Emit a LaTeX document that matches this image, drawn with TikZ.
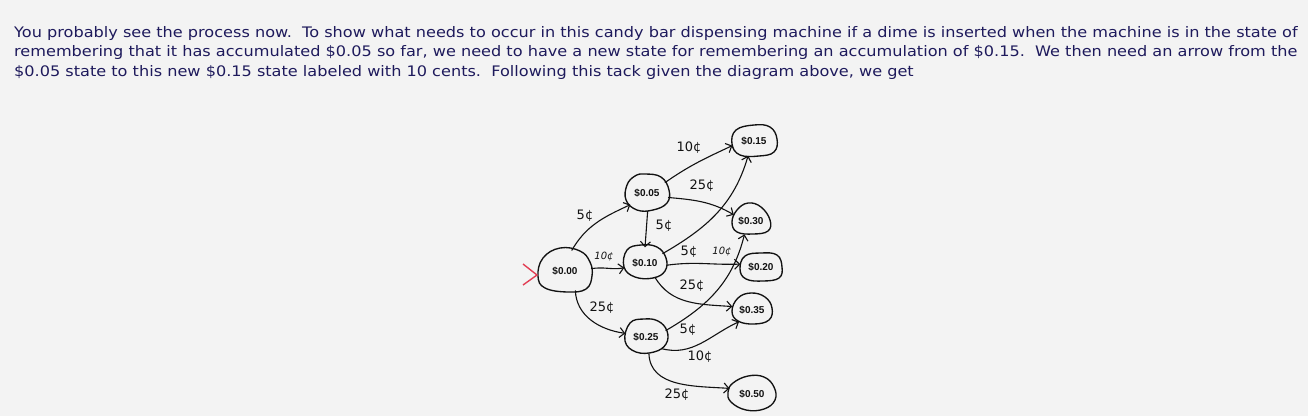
\documentclass[tikz,border=0pt]{standalone}
\usepackage{fontspec}
\setmainfont{DejaVu Sans}
\newfontfamily\bodyfont{DejaVu Sans}[FakeStretch=1.112]
\newfontfamily\statefont{Liberation Sans}
\usetikzlibrary{arrows.meta,shapes.geometric}
\definecolor{bg}{RGB}{243,243,243}
\definecolor{ink}{RGB}{30,26,92}
\definecolor{pen}{RGB}{18,18,18}
\definecolor{startred}{RGB}{226,62,84}
\begin{document}
\begin{tikzpicture}[x=1pt,y=-1pt,
  txt/.style={anchor=base west,inner sep=0pt,text=ink,font=\bodyfont\fontsize{14.5}{17}\selectfont},
  statebox/.style={ellipse,draw=none,inner sep=0pt,text=pen,font=\statefont\bfseries\fontsize{10}{12}\selectfont},
  blobline/.style={draw=pen,line width=1.35pt},
  edgeline/.style={draw=pen,line width=1.1pt,-{Straight Barb[length=5pt,width=10pt,line width=1.1pt]}},
  lbl/.style={inner sep=0pt,text=pen,font=\fontsize{13}{14}\selectfont},
  slbl/.style={inner sep=0pt,text=pen,font=\fontsize{10}{11}\selectfont\itshape},
  startmark/.style={draw=startred,line width=1.4pt}
]
\fill[bg] (0,0) rectangle (1308,416);
\useasboundingbox (0,0) rectangle (1308,416);

% text
\node[txt] (l1) at (14,37) {You probably see the process now.\ \ To show what needs to occur in this candy bar dispensing machine if a dime is inserted when the machine is in the state of};
\node[txt] (l2) at (14,56.5) {remembering that it has accumulated \$0.05 so far, we need to have a new state for remembering an accumulation of \$0.15.\ \ We then need an arrow from the};
\node[txt] (l3) at (14,76) {\$0.05 state to this new \$0.15 state labeled with 10 cents.\ \ Following this tack given the diagram above, we get};

% states
\node[statebox,minimum width=52pt,minimum height=42pt] (s00) at (565,271) {\$0.00};
\node[statebox,minimum width=43pt,minimum height=36pt] (s05) at (647,193) {\$0.05};
\node[statebox,minimum width=45pt,minimum height=30pt] (s15) at (754,141) {\$0.15};
\node[statebox,minimum width=38pt,minimum height=28pt] (s30) at (751,221) {\$0.30};
\node[statebox,minimum width=43pt,minimum height=31pt] (s10) at (645,263) {\$0.10};
\node[statebox,minimum width=42pt,minimum height=27pt] (s20) at (761,267) {\$0.20};
\node[statebox,minimum width=40pt,minimum height=30pt] (s35) at (752,310) {\$0.35};
\node[statebox,minimum width=42pt,minimum height=33pt] (s25) at (646,337) {\$0.25};
\node[statebox,minimum width=47pt,minimum height=34pt] (s50) at (752,394) {\$0.50};

% blobs
\draw[blobline,shift={(s00.center)}] plot[smooth cycle,tension=0.7] coordinates {(-5,-23) (15,-20) (25,-9) (27,5) (21,18) (3,21) (-20,17) (-27,5) (-22,-13)};
\draw[blobline,shift={(s05.center)}] plot[smooth cycle,tension=0.7] coordinates {(-2,-19) (14,-16) (22,-3) (20,10) (6,17) (-10,17) (-21,7) (-20,-8) (-12,-17)};
\draw[blobline,shift={(s15.center)}] plot[smooth cycle,tension=0.7] coordinates {(-18,-11) (0,-16) (16,-14) (23,-2) (20,11) (5,15) (-14,14) (-22,3)};
\draw[blobline,shift={(s30.center)}] plot[smooth cycle,tension=0.7] coordinates {(-14,-11) (-3,-18) (10,-14) (19,-1) (17,10) (2,13) (-14,11) (-19,1)};
\draw[blobline,shift={(s10.center)}] plot[smooth cycle,tension=0.7] coordinates {(-18,-13) (-4,-18) (12,-16) (21,-5) (20,8) (8,15) (-10,14) (-21,4)};
\draw[blobline,shift={(s20.center)}] plot[smooth cycle,tension=0.7] coordinates {(-16,-11) (0,-14) (16,-12) (21,0) (18,11) (2,14) (-15,12) (-21,2)};
\draw[blobline,shift={(s35.center)}] plot[smooth cycle,tension=0.7] coordinates {(-14,-12) (-1,-17) (13,-13) (20,-2) (17,10) (2,14) (-14,11) (-20,1)};
\draw[blobline,shift={(s25.center)}] plot[smooth cycle,tension=0.7] coordinates {(-16,-14) (-2,-18) (12,-16) (21,-6) (20,7) (8,15) (-10,15) (-21,4)};
\draw[blobline,shift={(s50.center)}] plot[smooth cycle,tension=0.7] coordinates {(-19,-11) (-4,-18) (12,-17) (22,-7) (23,6) (12,15) (-6,16) (-21,8) (-24,-2)};

% start marker
\coordinate (st) at (537,275);
\draw[startmark] (st) ++(-14,-11) -- (st) -- ++(-14,10);

% transitions
\draw[edgeline] (s00.72) to[out=60,in=205] (s05.215);
\draw[edgeline] (s00.5) to[out=10,in=190] (s10.193);
\draw[edgeline] (s00.-62) to[out=-88,in=172] (s25.170);
\draw[edgeline] (s05.-88) -- (s10.90);
\draw[edgeline] (s05.30) to[out=35,in=205] (s15.192);
\draw[edgeline] (s05.-12) to[out=-5,in=150] (s30.160);
\draw[edgeline] (s10.28) to[out=30,in=254] (s15.248);
\draw[edgeline] (s10.-6) to[out=8,in=182] (s20.172);
\draw[edgeline] (s10.-55) to[out=-60,in=176] (s35.170);
\draw[edgeline] (s25.18) to[out=30,in=256] (s30.244);
\draw[edgeline] (s25.-37) to[out=-15,in=205] (s35.222);
\draw[edgeline] (s25.-80) to[out=-88,in=176] (s50.166);

% labels
\node[lbl] (a1) at (585,216) {5¢};
\node[slbl] (a2) at (604,257) {10¢};
\node[lbl] (a3) at (602,308) {25¢};
\node[lbl] (a4) at (664,226) {5¢};
\node[lbl] (a5) at (689,148) {10¢};
\node[lbl] (a6) at (702,186) {25¢};
\node[lbl] (a7) at (689,252) {5¢};
\node[slbl] (a8) at (722,252) {10¢};
\node[lbl] (a9) at (692,286) {25¢};
\node[lbl] (a10) at (688,330) {5¢};
\node[lbl] (a11) at (700,357) {10¢};
\node[lbl] (a12) at (677,395) {25¢};
\end{tikzpicture}
\end{document}
